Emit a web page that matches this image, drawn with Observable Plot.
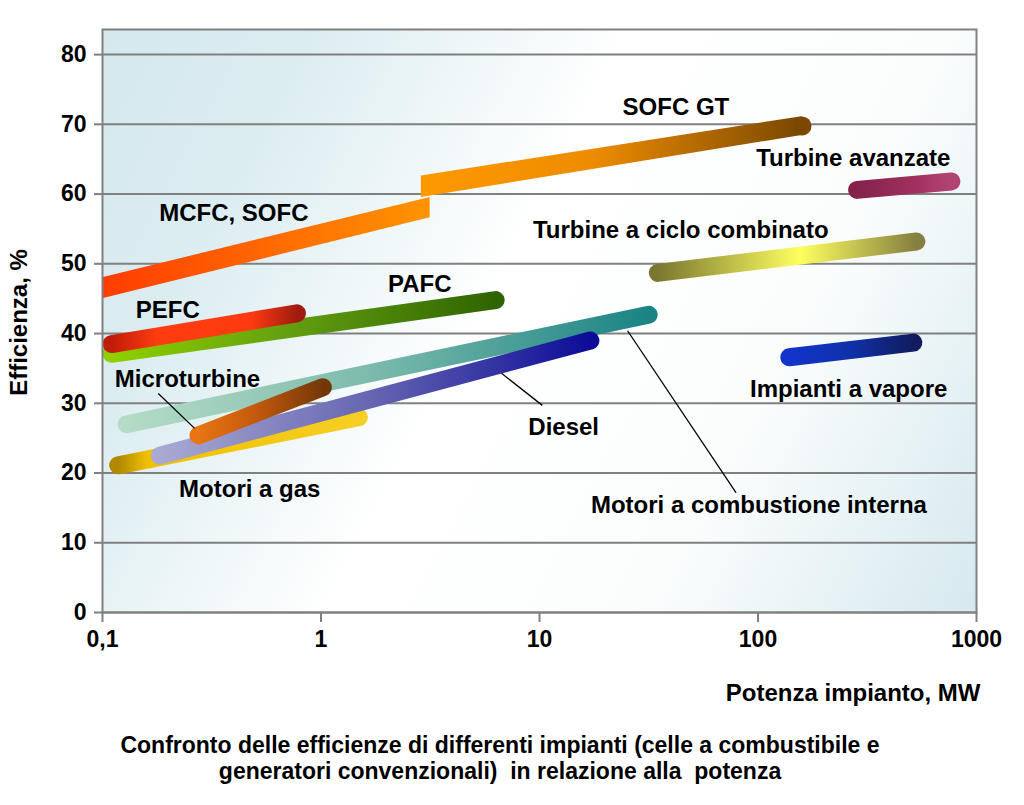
<!DOCTYPE html>
<html><head><meta charset="utf-8">
<script src="https://cdn.jsdelivr.net/npm/d3@7"></script>
<script src="https://cdn.jsdelivr.net/npm/@observablehq/plot@0.6"></script>
<style>
body{margin:0;background:#fff;font-family:"Liberation Sans",Arial,sans-serif;}
#caption{width:1000px;text-align:center;font-weight:bold;font-size:23px;line-height:26px;padding-top:4px;white-space:pre;color:#000;}
</style></head><body>
<div id="chart"></div>
<div id="caption">Confronto delle efficienze di differenti impianti (celle a combustibile e
generatori convenzionali)  in relazione alla  potenza</div>
<script>
// ---------- data ----------
const barNames = ["Motori a combustione interna","Motori a gas","Diesel","Microturbine","PAFC","PEFC","Turbine a ciclo combinato","Turbine avanzate","Impianti a vapore"];
const barX1 = [0.129, 0.118, 0.183, 0.275, 0.11, 0.11, 34.8, 284, 139];
const barY1 = [27.0, 21.1, 22.5, 25.4, 37.1, 38.5, 48.7, 60.6, 36.6];
const barX2 = [31.6, 1.49, 17.1, 1.02, 6.3, 0.776, 531, 768, 514];
const barY2 = [42.7, 28.0, 39.0, 32.3, 44.8, 42.9, 53.2, 61.8, 38.7];

// MCFC, SOFC band and SOFC GT band (x, lower and upper edge)
const mcfcX = [0.1, 3.16];
const mcfcLo = [45.0, 56.6];
const mcfcHi = [48.0, 59.5];
const sofcX = [2.88, 159];
const sofcLo = [59.5, 68.4];
const sofcHi = [62.6, 71.1];

// labels
const labelText = ["MCFC, SOFC","SOFC GT","Turbine avanzate","Turbine a ciclo combinato","PAFC","PEFC","Microturbine","Diesel","Motori a gas","Motori a combustione interna","Impianti a vapore"];
const labelX = [0.399, 42.1, 273, 44.3, 2.83, 0.199, 0.245, 12.9, 0.472, 101, 260];
const labelY = [57.2, 72.5, 65.1, 54.8, 47.0, 43.3, 33.5, 26.5, 17.6, 15.3, 32.0];

// leader lines
const leaderX1 = [0.18, 6.7, 25.3];
const leaderY1 = [31.4, 34.3, 40.4];
const leaderX2 = [0.264, 10.3, 79.3];
const leaderY2 = [26.4, 29.7, 17.2];

// axes
const xTicks = [0.1, 1, 10, 100, 1000];
const xTickLabels = ["0,1", "1", "10", "100", "1000"];
const yTicks = [0, 10, 20, 30, 40, 50, 60, 70, 80];
const xTitle = "Potenza impianto, MW";
const yTitle = "Efficienza, %";

// ---------- styles ----------
const barStops = [
  [[0,"#b4dcc6"],[0.45,"#7fbcae"],[1,"#1a8484"]],
  [[0,"#b08800"],[0.12,"#f0c000"],[1,"#f6cf24"]],
  [[0,"#a9a9d2"],[0.5,"#6464b2"],[1,"#0c0c98"]],
  [[0,"#e87412"],[0.45,"#c45a0c"],[1,"#733808"]],
  [[0,"#8ed000"],[0.45,"#64a010"],[1,"#2f6400"]],
  [[0,"#c01c08"],[0.25,"#ff3c10"],[0.75,"#ff3a10"],[1,"#a01c10"]],
  [[0,"#7a7830"],[0.55,"#ffff60"],[1,"#858040"]],
  [[0,"#84224c"],[0.6,"#a0305e"],[1,"#b24474"]],
  [[0,"#1234cc"],[0.5,"#1030a8"],[1,"#101c5e"]]
];
const mcfcStops = [[0,"#ff3c00"],[1,"#ff9400"]];
const sofcStops = [[0,"#ff9900"],[0.45,"#ee8c00"],[1,"#7a4800"]];
const bgStops = [[0,"#d4e8ee"],[0.18,"#dcedf1"],[0.45,"#ffffff"],[0.72,"#fbfdfd"],[1,"#d6e9ef"]];

// ---------- build ----------
const bars = barNames.map((name, i) => ({name, x1: barX1[i], y1: barY1[i], x2: barX2[i], y2: barY2[i]}));
const mcfcRows = mcfcX.map((x, i) => ({x, lo: mcfcLo[i], hi: mcfcHi[i]}));
const sofcRows = sofcX.map((x, i) => ({x, lo: sofcLo[i], hi: sofcHi[i]}));
const sofcEnd = [{x: sofcX[1], y: (sofcLo[1] + sofcHi[1]) / 2}];
const labels = labelText.map((t, i) => ({t, x: labelX[i], y: labelY[i]}));
const leaders = leaderX1.map((x1, i) => ({x1, y1: leaderY1[i], x2: leaderX2[i], y2: leaderY2[i]}));

const FONT = "Liberation Sans, Arial, sans-serif";
const gridColor = "#808080";

const barMarks = bars.map((b, i) => Plot.link([b], {
  x1: "x1", y1: "y1", x2: "x2", y2: "y2",
  stroke: `url(#gBar${i})`, strokeWidth: 18, strokeLinecap: "round"
}));

const chart = Plot.plot({
  width: 1024,
  height: 728,
  marginLeft: 102,
  marginRight: 48,
  marginTop: 29,
  marginBottom: 116,
  style: {fontFamily: FONT, background: "white", overflow: "visible"},
  x: {type: "log", domain: [0.1, 1000]},
  y: {domain: [0, 83.6]},
  marks: [
    Plot.frame({fill: "url(#bgGrad)", stroke: "none"}),
    Plot.ruleY(yTicks, {stroke: gridColor, strokeWidth: 2}),
    Plot.areaY(mcfcRows, {x: "x", y1: "lo", y2: "hi", fill: "url(#gMCFC)"}),
    Plot.areaY(sofcRows, {x: "x", y1: "lo", y2: "hi", fill: "url(#gSOFC)"}),
    Plot.dot(sofcEnd, {x: "x", y: "y", r: 9.5, fill: "#7a4800", stroke: "none"}),
    ...barMarks,
    Plot.link(leaders, {x1: "x1", y1: "y1", x2: "x2", y2: "y2", stroke: "black", strokeWidth: 1.3}),
    Plot.text(labels, {x: "x", y: "y", text: "t", fontSize: 24, fontWeight: "bold", fill: "black", textAnchor: "middle", lineAnchor: "middle"}),
    Plot.frame({stroke: gridColor, strokeWidth: 2, fill: "none"}),
    // axis ticks
    Plot.axisX({ticks: xTicks, tickSize: 10, tickFormat: () => "", stroke: gridColor, strokeWidth: 2, label: null}),
    Plot.axisX({ticks: xTicks, tickSize: 0, tickPadding: 18, tickFormat: d => xTickLabels[xTicks.indexOf(d)], fill: "black", fontSize: 23, fontWeight: "bold", label: null}),
    Plot.axisY({ticks: yTicks, tickSize: 8, tickFormat: () => "", stroke: gridColor, strokeWidth: 2, label: null}),
    Plot.axisY({ticks: yTicks, tickSize: 0, tickPadding: 16, fill: "black", fontSize: 23, fontWeight: "bold", label: null}),
    // axis titles
    Plot.text([xTitle], {frameAnchor: "bottom-right", text: d => d, dx: 4, dy: 81, textAnchor: "end", lineAnchor: "middle", fontSize: 24, fontWeight: "bold", fill: "black"}),
    Plot.text([yTitle], {frameAnchor: "left", text: d => d, dx: -83, dy: 1.5, rotate: -90, textAnchor: "middle", lineAnchor: "middle", fontSize: 24, fontWeight: "bold", fill: "black"})
  ]
});

// gradient definitions
const NS = "http://www.w3.org/2000/svg";
const defs = document.createElementNS(NS, "defs");
function addStops(g, stops) {
  for (const [o, c] of stops) {
    const s = document.createElementNS(NS, "stop");
    s.setAttribute("offset", o);
    s.setAttribute("stop-color", c);
    g.appendChild(s);
  }
}
function linGrad(id, stops, x2 = 1, y2 = 0) {
  const g = document.createElementNS(NS, "linearGradient");
  g.setAttribute("id", id);
  g.setAttribute("x1", "0"); g.setAttribute("y1", "0");
  g.setAttribute("x2", x2); g.setAttribute("y2", y2);
  addStops(g, stops);
  defs.appendChild(g);
}
barStops.forEach((st, i) => linGrad(`gBar${i}`, st));
linGrad("gMCFC", mcfcStops);
linGrad("gSOFC", sofcStops);
linGrad("bgGrad", bgStops, 1.2, 0.42);
chart.insertBefore(defs, chart.firstChild);

document.getElementById("chart").appendChild(chart);
</script>
</body></html>
